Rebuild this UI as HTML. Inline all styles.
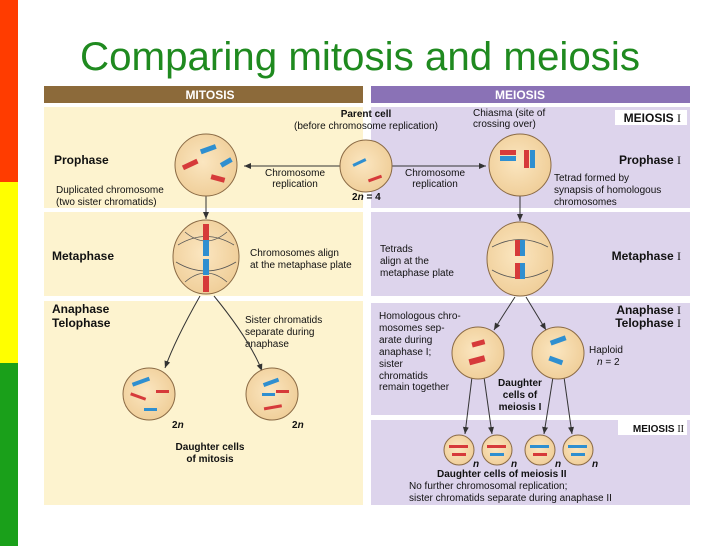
<!DOCTYPE html>
<html><head><style>
html,body{margin:0;padding:0;background:#fff;width:728px;height:546px;overflow:hidden}
svg{display:block}
text{font-family:"Liberation Sans",Arial,sans-serif}
.b{font-weight:bold}
</style></head><body>
<svg width="728" height="546" viewBox="0 0 728 546" xmlns="http://www.w3.org/2000/svg">
<defs>
<radialGradient id="cg" cx="0.45" cy="0.45" r="0.6"><stop offset="0" stop-color="#fbe6c0"/><stop offset="1" stop-color="#efcd97"/></radialGradient>
<marker id="ar" markerWidth="8" markerHeight="8" refX="7" refY="4" orient="auto" markerUnits="userSpaceOnUse"><path d="M0,1 L7,4 L0,7 Z" fill="#333"/></marker>
</defs>
<rect x="0" y="0" width="18" height="182" fill="#ff3c00"/>
<rect x="0" y="182" width="18" height="181" fill="#ffff00"/>
<rect x="0" y="363" width="18" height="183" fill="#1aa01a"/>
<text x="360" y="70" text-anchor="middle" font-size="40" fill="#1f8a1f" textLength="560" lengthAdjust="spacingAndGlyphs">Comparing mitosis and meiosis</text>
<rect x="44" y="86" width="319" height="17" fill="#8c6a3a"/>
<text x="210" y="99" text-anchor="middle" font-size="12" class="b" fill="#fff">MITOSIS</text>
<rect x="371" y="86" width="319" height="17" fill="#8a72b6"/>
<text x="520" y="99" text-anchor="middle" font-size="12" class="b" fill="#fff">MEIOSIS</text>
<rect x="44" y="107" width="319" height="101" fill="#fdf3cf"/>
<rect x="44" y="212" width="319" height="84" fill="#fdf3cf"/>
<rect x="44" y="301" width="319" height="204" fill="#fdf3cf"/>
<rect x="371" y="107" width="319" height="101" fill="#ddd4ec"/>
<rect x="371" y="212" width="319" height="84" fill="#ddd4ec"/>
<rect x="371" y="303" width="319" height="112" fill="#ddd4ec"/>
<rect x="371" y="420" width="319" height="85" fill="#ddd4ec"/>
<rect x="615" y="110" width="72" height="15" fill="#fff"/>
<rect x="618" y="420" width="69" height="15" fill="#fff"/>
<g font-size="11" fill="#111">
<text x="54" y="164" class="b" font-size="12">Prophase</text>
<text x="56" y="193" font-size="10">Duplicated chromosome</text>
<text x="56" y="205" font-size="10">(two sister chromatids)</text>
<text x="52" y="260" class="b" font-size="12">Metaphase</text>
<text x="52" y="313" class="b" font-size="12">Anaphase</text>
<text x="52" y="327" class="b" font-size="12">Telophase</text>
<text x="366" y="117" text-anchor="middle" class="b" font-size="10">Parent cell</text>
<text x="366" y="129" text-anchor="middle" font-size="10">(before chromosome replication)</text>
<text x="295" y="176" text-anchor="middle" font-size="10">Chromosome</text>
<text x="295" y="187" text-anchor="middle" font-size="10">replication</text>
<text x="435" y="176" text-anchor="middle" font-size="10">Chromosome</text>
<text x="435" y="187" text-anchor="middle" font-size="10">replication</text>
<text x="352" y="200" class="b" font-size="10">2<tspan font-style="italic">n</tspan> = 4</text>
<text x="473" y="116" font-size="10">Chiasma (site of</text>
<text x="473" y="127" font-size="10">crossing over)</text>
<text x="681" y="122" text-anchor="end" class="b" font-size="12">MEIOSIS <tspan font-family="Liberation Serif" font-weight="normal">I</tspan></text>
<text x="681" y="164" text-anchor="end" class="b" font-size="12">Prophase <tspan font-family="Liberation Serif" font-weight="normal">I</tspan></text>
<text x="554" y="181" font-size="10">Tetrad formed by</text>
<text x="554" y="193" font-size="10">synapsis of homologous</text>
<text x="554" y="205" font-size="10">chromosomes</text>
<text x="250" y="256" font-size="10">Chromosomes align</text>
<text x="250" y="268" font-size="10">at the metaphase plate</text>
<text x="380" y="252" font-size="10">Tetrads</text>
<text x="380" y="264" font-size="10">align at the</text>
<text x="380" y="276" font-size="10">metaphase plate</text>
<text x="681" y="260" text-anchor="end" class="b" font-size="12">Metaphase <tspan font-family="Liberation Serif" font-weight="normal">I</tspan></text>
<text x="245" y="323" font-size="10">Sister chromatids</text>
<text x="245" y="335" font-size="10">separate during</text>
<text x="245" y="347" font-size="10">anaphase</text>
<text x="172" y="428" class="b" font-size="10">2<tspan font-style="italic">n</tspan></text>
<text x="292" y="428" class="b" font-size="10">2<tspan font-style="italic">n</tspan></text>
<text x="210" y="450" text-anchor="middle" class="b" font-size="10">Daughter cells</text>
<text x="210" y="462" text-anchor="middle" class="b" font-size="10">of mitosis</text>
<text x="681" y="314" text-anchor="end" class="b" font-size="12">Anaphase <tspan font-family="Liberation Serif" font-weight="normal">I</tspan></text>
<text x="681" y="327" text-anchor="end" class="b" font-size="12">Telophase <tspan font-family="Liberation Serif" font-weight="normal">I</tspan></text>
<text x="379" y="319" font-size="10">Homologous chro-</text>
<text x="379" y="331" font-size="10">mosomes sep-</text>
<text x="379" y="343" font-size="10">arate during</text>
<text x="379" y="355" font-size="10">anaphase I;</text>
<text x="379" y="367" font-size="10">sister</text>
<text x="379" y="379" font-size="10">chromatids</text>
<text x="379" y="390" font-size="10">remain together</text>
<text x="589" y="353" font-size="10">Haploid</text>
<text x="597" y="365" font-size="10"><tspan font-style="italic">n</tspan> = 2</text>
<text x="520" y="386" text-anchor="middle" class="b" font-size="10">Daughter</text>
<text x="520" y="398" text-anchor="middle" class="b" font-size="10">cells of</text>
<text x="520" y="410" text-anchor="middle" class="b" font-size="10">meiosis I</text>
<text x="684" y="432" text-anchor="end" class="b" font-size="10">MEIOSIS <tspan font-family="Liberation Serif" font-weight="normal">II</tspan></text>
<text x="473" y="467" class="b" font-style="italic" font-size="10">n</text>
<text x="511" y="467" class="b" font-style="italic" font-size="10">n</text>
<text x="555" y="467" class="b" font-style="italic" font-size="10">n</text>
<text x="592" y="467" class="b" font-style="italic" font-size="10">n</text>
<text x="437" y="477" class="b" font-size="10">Daughter cells of meiosis II</text>
<text x="409" y="489" font-size="10">No further chromosomal replication;</text>
<text x="409" y="501" font-size="10">sister chromatids separate during anaphase II</text>
</g>
<g stroke="#333" stroke-width="1" fill="none" marker-end="url(#ar)">
<line x1="340" y1="166" x2="244" y2="166"/>
<line x1="392" y1="166" x2="486" y2="166"/>
<line x1="206" y1="196" x2="206" y2="219"/>
<line x1="520" y1="196" x2="520" y2="221"/>
<path d="M200,296 Q175,340 165,368"/>
<path d="M214,296 Q250,340 262,371"/>
<path d="M515,297 Q500,320 494,330"/>
<path d="M526,297 Q540,320 546,330"/>
<line x1="472" y1="377" x2="465" y2="434"/>
<line x1="484" y1="377" x2="492" y2="434"/>
<line x1="553" y1="377" x2="544" y2="434"/>
<line x1="564" y1="377" x2="572" y2="434"/>
</g>
<g stroke="#8a6a45" stroke-width="1" fill="url(#cg)">
<circle cx="366" cy="166" r="26"/>
<circle cx="206" cy="165" r="31"/>
<circle cx="520" cy="165" r="31"/>
<ellipse cx="206" cy="257" rx="33" ry="37"/>
<ellipse cx="520" cy="259" rx="33" ry="37"/>
<circle cx="149" cy="394" r="26"/>
<circle cx="272" cy="394" r="26"/>
<circle cx="478" cy="353" r="26"/>
<circle cx="558" cy="353" r="26"/>
<circle cx="459" cy="450" r="15"/>
<circle cx="497" cy="450" r="15"/>
<circle cx="540" cy="450" r="15"/>
<circle cx="578" cy="450" r="15"/>
</g>
<g stroke="#555" stroke-width="0.8" fill="none">
<path d="M178,245 Q206,228 234,245 M176,262 Q206,280 236,262 M185,232 Q206,250 227,232 M185,282 Q206,264 227,282"/>
<path d="M492,247 Q520,232 548,247 M492,270 Q520,286 548,270"/>
</g>
<g stroke-width="0">
<rect x="203" y="224" width="6" height="16" fill="#d63a3a"/><rect x="203" y="240" width="6" height="16" fill="#2f8fd0"/>
<rect x="203" y="259" width="6" height="16" fill="#2f8fd0"/><rect x="203" y="276" width="6" height="16" fill="#d63a3a"/>
<rect x="515" y="240" width="5" height="16" fill="#d63a3a"/><rect x="520" y="240" width="5" height="16" fill="#2f8fd0"/>
<rect x="515" y="263" width="5" height="16" fill="#d63a3a"/><rect x="520" y="263" width="5" height="16" fill="#2f8fd0"/>
<rect x="500" y="150" width="16" height="5" fill="#d63a3a"/><rect x="500" y="156" width="16" height="5" fill="#2f8fd0"/>
<rect x="524" y="150" width="5" height="18" fill="#d63a3a"/><rect x="530" y="150" width="5" height="18" fill="#2f8fd0"/>
<g transform="rotate(-20 210 148)"><rect x="200" y="146" width="16" height="5" fill="#2f8fd0"/></g>
<g transform="rotate(-25 190 164)"><rect x="182" y="162" width="16" height="5" fill="#d63a3a"/></g>
<g transform="rotate(-30 226 162)"><rect x="220" y="160" width="12" height="5" fill="#2f8fd0"/></g>
<g transform="rotate(15 218 178)"><rect x="211" y="176" width="14" height="5" fill="#d63a3a"/></g>
<g transform="rotate(-25 366 160)"><rect x="352" y="158" width="14" height="3" fill="#2f8fd0"/></g>
<g transform="rotate(-20 378 178)"><rect x="368" y="176" width="14" height="3" fill="#d63a3a"/></g>
<g transform="rotate(-20 140 382)"><rect x="132" y="380" width="18" height="4" fill="#2f8fd0"/></g>
<g transform="rotate(20 138 397)"><rect x="130" y="395" width="16" height="3" fill="#d63a3a"/></g>
<rect x="156" y="390" width="13" height="3" fill="#d63a3a"/><rect x="144" y="408" width="13" height="3" fill="#2f8fd0"/>
<g transform="rotate(-20 272 382)"><rect x="263" y="380" width="16" height="4" fill="#2f8fd0"/></g>
<rect x="262" y="393" width="13" height="3" fill="#2f8fd0"/><rect x="276" y="390" width="13" height="3" fill="#d63a3a"/>
<g transform="rotate(-10 272 408)"><rect x="264" y="406" width="18" height="3" fill="#d63a3a"/></g>
<g transform="rotate(-15 478 344)"><rect x="472" y="341" width="13" height="5" fill="#d63a3a"/></g>
<g transform="rotate(-15 478 360)"><rect x="469" y="357" width="16" height="6" fill="#d63a3a"/></g>
<g transform="rotate(-20 558 340)"><rect x="550" y="338" width="16" height="5" fill="#2f8fd0"/></g>
<g transform="rotate(20 556 360)"><rect x="549" y="358" width="14" height="5" fill="#2f8fd0"/></g>
<rect x="449" y="445" width="19" height="3" fill="#d63a3a"/><rect x="452" y="453" width="14" height="3" fill="#d63a3a"/>
<rect x="487" y="445" width="19" height="3" fill="#d63a3a"/><rect x="490" y="453" width="14" height="3" fill="#2f8fd0"/>
<rect x="530" y="445" width="19" height="3" fill="#2f8fd0"/><rect x="533" y="453" width="14" height="3" fill="#d63a3a"/>
<rect x="568" y="445" width="19" height="3" fill="#2f8fd0"/><rect x="571" y="453" width="14" height="3" fill="#2f8fd0"/>
</g>
</svg>
</body></html>
